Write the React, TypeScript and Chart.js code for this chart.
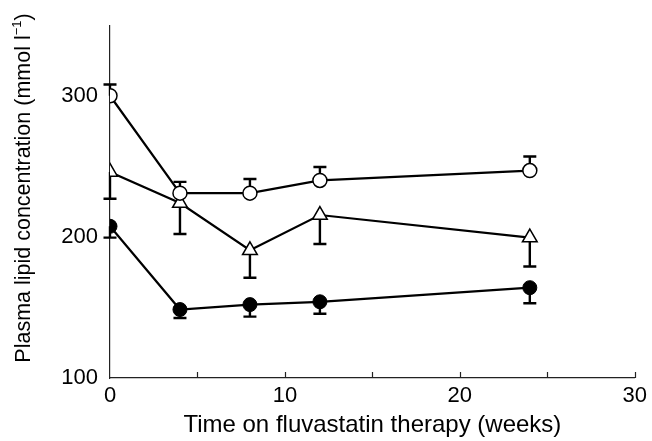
import React, { useEffect, useRef } from "react";
import { Chart, registerables } from "chart.js";

Chart.register(...registerables);

const weeks = [0, 4, 8, 12, 24];
const openCircle = [300, 231, 231, 240, 247];
const openCircleErrUp = [8, 8, 10, 9.5, 10];
const triangle = [246, 224, 190.5, 215.5, 199.5];
const triangleErrDown = [19, 22, 19.5, 20.5, 20.5];
const filledCircle = [207.5, 148.5, 152, 154, 164];
const filledCircleErrDown = [8, 6, 8.5, 8.5, 11];
const yTicks = [100, 200, 300];
const xTickLabels = [0, 10, 20, 30];
const yTitleMain = "Plasma lipid concentration (mmol l";
const yTitleSup = "\u22121";
const yTitleEnd = ")";

const FONT = "'Liberation Sans', Arial, Helvetica, sans-serif";

const errorBarPlugin = {
  id: "errorBars",
  beforeDatasetsDraw(chart: any) {
    const ctx = chart.ctx;
    const xs = chart.scales.x;
    const ys = chart.scales.y;
    const specs = [
      { vals: openCircle, errs: openCircleErrUp, dir: 1 },
      { vals: triangle, errs: triangleErrDown, dir: -1 },
      { vals: filledCircle, errs: filledCircleErrDown, dir: -1 },
    ];
    ctx.save();
    ctx.strokeStyle = "#000";
    ctx.lineWidth = 2.4;
    specs.forEach((s) => {
      weeks.forEach((w, i) => {
        const px = xs.getPixelForValue(w);
        const p0 = ys.getPixelForValue(s.vals[i]);
        const p1 = ys.getPixelForValue(s.vals[i] + s.dir * s.errs[i]);
        ctx.beginPath();
        ctx.moveTo(px, p0);
        ctx.lineTo(px, p1);
        ctx.moveTo(px - 6.5, p1);
        ctx.lineTo(px + 6.5, p1);
        ctx.stroke();
      });
    });
    ctx.restore();
  },
};

const innerTicksPlugin = {
  id: "innerTicks",
  afterDraw(chart: any) {
    const ctx = chart.ctx;
    const xs = chart.scales.x;
    const bottom = chart.chartArea.bottom;
    ctx.save();
    ctx.strokeStyle = "#222";
    ctx.lineWidth = 1.2;
    xs.ticks.forEach((t: any) => {
      if (t.value === 0) return;
      const px = Math.round(xs.getPixelForValue(t.value)) + 0.5;
      ctx.beginPath();
      ctx.moveTo(px, bottom);
      ctx.lineTo(px, bottom - 6);
      ctx.stroke();
    });
    ctx.restore();
  },
};

const yTitlePlugin = {
  id: "yTitle",
  afterDraw(chart: any) {
    const ctx = chart.ctx;
    ctx.save();
    ctx.translate(24, 188);
    ctx.rotate(-Math.PI / 2);
    ctx.fillStyle = "#000";
    ctx.textBaseline = "middle";
    ctx.textAlign = "left";
    const big = `21.5px ${FONT}`;
    const small = `13px ${FONT}`;
    ctx.font = big;
    const w1 = ctx.measureText(yTitleMain).width;
    const w3 = ctx.measureText(yTitleEnd).width;
    ctx.font = small;
    const w2 = ctx.measureText(yTitleSup).width;
    let x = -(w1 + w2 + w3) / 2;
    ctx.font = big;
    ctx.fillText(yTitleMain, x, 0);
    x += w1;
    ctx.font = small;
    ctx.fillText(yTitleSup, x, -7);
    x += w2;
    ctx.font = big;
    ctx.fillText(yTitleEnd, x, 0);
    ctx.restore();
  },
};

export default function App() {
  const ref = useRef<HTMLCanvasElement>(null);
  useEffect(() => {
    document.body.style.margin = "0";
    const mk = (vals: number[]) => weeks.map((w, i) => ({ x: w, y: vals[i] }));
    const common = {
      borderColor: "#000",
      borderWidth: 2.2,
      pointBorderColor: "#000",
    };
    const chart = new Chart(ref.current!, {
      type: "line",
      data: {
        datasets: [
          {
            ...common,
            data: mk(openCircle),
            pointStyle: "circle",
            pointRadius: 7,
            pointBackgroundColor: "#fff",
            pointBorderWidth: 1.5,
          },
          {
            ...common,
            data: mk(triangle),
            pointStyle: "triangle",
            pointRadius: 8.5,
            pointBackgroundColor: "#fff",
            pointBorderWidth: 1.5,
          },
          {
            ...common,
            data: mk(filledCircle),
            pointStyle: "circle",
            pointRadius: 7,
            pointBackgroundColor: "#000",
            pointBorderWidth: 1,
          },
        ],
      },
      options: {
        responsive: false,
        animation: false,
        plugins: { legend: { display: false }, tooltip: { enabled: false } },
        layout: { padding: { top: 23, right: 15, left: 0, bottom: 0 } },
        scales: {
          x: {
            type: "linear",
            min: 0,
            max: 30,
            grid: { display: false, drawTicks: false },
            border: { display: true, color: "#222", width: 1.2 },
            ticks: {
              stepSize: 5,
              autoSkip: false,
              maxRotation: 0,
              padding: 5,
              color: "#000",
              font: { family: FONT, size: 22 },
              callback: (v: any) => (xTickLabels.includes(Number(v)) ? String(v) : ""),
            },
            title: {
              display: true,
              text: "Time on fluvastatin therapy (weeks)",
              color: "#000",
              font: { family: FONT, size: 24 },
              padding: { top: 0, bottom: 1 },
            },
            afterFit: (s: any) => {
              s.height = 63;
            },
          },
          y: {
            type: "linear",
            min: 100,
            max: 350,
            grid: { display: false, drawTicks: false },
            border: { display: true, color: "#222", width: 1.2 },
            afterBuildTicks: (s: any) => {
              s.ticks = yTicks.map((v) => ({ value: v }));
            },
            ticks: {
              padding: 12,
              color: "#000",
              font: { family: FONT, size: 22 },
            },
            title: { display: false },
            afterFit: (s: any) => {
              s.width = 110;
            },
          },
        },
      },
      plugins: [errorBarPlugin, innerTicksPlugin, yTitlePlugin],
    });
    return () => chart.destroy();
  }, []);
  return <canvas ref={ref} width={652} height={441} style={{ display: "block" }} />;
}
